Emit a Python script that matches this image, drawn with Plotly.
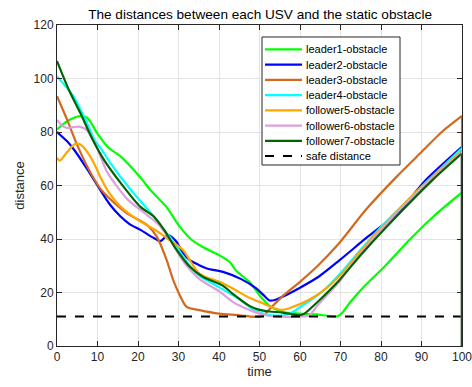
import plotly.graph_objects as go

# Distance from each USV to the static obstacle over time
leader1_t = [0, 2.5, 5.4, 7.5, 9.9, 12.8, 15.7, 20.6, 23, 27, 30.3, 32.8, 36, 40, 42.6, 44.3, 47.5, 50, 52.5, 55.7, 59.9, 64, 69.3, 70.5, 72.2, 76, 80.4, 87, 93, 100]
leader1_d = [81, 84, 85.9, 85.3, 79.6, 74, 70.9, 63, 58.4, 52, 44.6, 40.3, 37, 34, 31.5, 28, 24, 19, 15, 12.7, 12.1, 11.8, 11.1, 12.5, 16, 22.5, 29, 39.6, 48.5, 57.4]

leader2_t = [0, 2.5, 4.4, 7.5, 10.6, 13, 15.7, 18, 20.6, 24, 25.5, 27.4, 29.5, 31, 32.8, 35, 37, 41, 45.5, 49.2, 51, 52.5, 54, 55.7, 60, 64.5, 69.7, 76.3, 84.5, 91, 100]
leader2_d = [80, 76.5, 73, 66, 58.5, 53, 48.4, 45.5, 43.4, 40.3, 39.2, 41.5, 39, 35, 32.1, 30.3, 29, 27.7, 25, 21.5, 19, 17, 17.3, 18.4, 21.8, 25.8, 32, 40.3, 50.3, 62, 74.5]

leader3_t = [0, 2.5, 4.6, 7.5, 10.6, 12.4, 17.3, 22.2, 24.6, 27, 28.7, 30, 32, 35.2, 40, 45, 48, 50, 51, 53, 56, 60, 64.4, 69.7, 76.3, 84, 90, 95, 100]
leader3_d = [93.4, 84.6, 76.5, 67, 59, 56, 49.6, 45.3, 41, 32.5, 24.6, 20, 14.6, 13.4, 12.1, 11.5, 11, 10.9, 11.5, 14.6, 19, 24, 30, 38.5, 51, 63.5, 72.5, 80, 86]

leader4_t = [0, 4, 7.5, 9.3, 11, 13.2, 18.2, 23.9, 26.4, 28, 30, 32, 35, 40, 45, 48, 50, 53, 56, 58, 60, 62, 66, 70, 75, 80, 90, 100]
leader4_d = [100.8, 93.5, 83, 77, 73.5, 68.4, 58.4, 48.4, 43.4, 40.5, 36, 31.5, 26.5, 22, 17.5, 14.2, 12.5, 11.5, 11.5, 12.5, 14.5, 16.5, 21, 27.2, 36, 44.5, 59.5, 74]

follower5_t = [0, 0.7, 2.5, 4.4, 5.8, 7.5, 9.1, 10.6, 12.4, 15.7, 20.6, 23, 25.5, 27.8, 31.1, 35.2, 40.1, 43.4, 47.5, 50, 53, 55.5, 58, 62.5, 66, 70, 75, 80, 90, 100]
follower5_d = [70.3, 69.3, 72.5, 75.5, 75.3, 72.5, 68.4, 63.5, 58.4, 52.1, 46.5, 44.5, 42.1, 39.6, 35.9, 27, 24, 21.5, 18, 16.5, 14.5, 13.5, 14.5, 17.5, 21, 26.5, 35.5, 44, 59.5, 73]

follower6_t = [0, 1.2, 2.5, 4, 5.5, 7.5, 9.9, 12.4, 17.3, 22.2, 25, 28, 31, 35.2, 40, 43.4, 47.5, 51.5, 55, 60, 62.3, 64.5, 69.7, 72, 75, 80, 90, 100]
follower6_d = [84.5, 82.5, 81.5, 81.8, 82, 80.5, 74, 65, 55, 49, 45.5, 39.5, 32, 25, 20.5, 16.5, 13.5, 11.5, 11, 11, 11.5, 15.5, 24, 29, 34.5, 43.5, 59, 72.5]

follower7_t = [0, 3, 5.8, 8.7, 11.6, 15.7, 20.6, 23.9, 26.4, 29.5, 32.8, 36, 41, 43.4, 47.5, 50, 52.5, 55.7, 59.9, 61, 64, 69.7, 75, 80.4, 92.7, 100]
follower7_d = [106.5, 95.5, 87, 77.5, 69.6, 61, 52, 48.4, 43.5, 36, 29.6, 25.9, 22.5, 19.5, 15, 13.5, 12.9, 12.5, 11.5, 12, 16, 24.6, 34, 43, 62, 72]

# every distance record is reset to zero at the final time step
final_d = 0

safe_t = [0, 100]
safe_d = [11, 11]

series = [
    ("leader1-obstacle", leader1_t, leader1_d, "#00FF00"),
    ("leader2-obstacle", leader2_t, leader2_d, "#0000FF"),
    ("leader3-obstacle", leader3_t, leader3_d, "#D2691E"),
    ("leader4-obstacle", leader4_t, leader4_d, "#00FFFF"),
    ("follower5-obstacle", follower5_t, follower5_d, "#FFA500"),
    ("follower6-obstacle", follower6_t, follower6_d, "#DDA0DD"),
    ("follower7-obstacle", follower7_t, follower7_d, "#006400"),
]
LW = 2.2

fig = go.Figure()
for name, t, d, color in series:
    fig.add_trace(go.Scatter(x=t, y=d, mode="lines", name=name, showlegend=False,
                             line=dict(color=color, width=LW, shape="spline", smoothing=0.7)))
fig.add_trace(go.Scatter(x=safe_t, y=safe_d, mode="lines", name="safe distance", showlegend=False,
                         line=dict(color="black", width=2, dash="dash")))
# vertical drop of each record at the last time step
for name, t, d, color in series:
    fig.add_trace(go.Scatter(x=[t[-1], t[-1]], y=[d[-1], final_d], mode="lines", showlegend=False,
                             line=dict(color=color, width=LW)))

# legend box drawn in paper coordinates
def px_to_paper_x(px):
    return (px - 57) / 405

def px_to_paper_y(py):
    return (346 - py) / 321

shapes = [dict(type="rect", xref="paper", yref="paper",
               x0=px_to_paper_x(262), x1=px_to_paper_x(400),
               y0=px_to_paper_y(165), y1=px_to_paper_y(37),
               line=dict(color="#262626", width=1), fillcolor="white", layer="above")]
annotations = []
legend_entries = [(name, color, "solid", LW) for name, _, _, color in series]
legend_entries.append(("safe distance", "black", "dash", 2))
for i, (name, color, dash, w) in enumerate(legend_entries):
    yc = px_to_paper_y(49.3 + 15.25 * i)
    shapes.append(dict(type="line", xref="paper", yref="paper",
                       x0=px_to_paper_x(265), x1=px_to_paper_x(302), y0=yc, y1=yc,
                       line=dict(color=color, width=w, dash=dash), layer="above"))
    annotations.append(dict(xref="paper", yref="paper", x=px_to_paper_x(304), y=yc,
                            xanchor="left", yanchor="middle", text=name, showarrow=False,
                            font=dict(size=11, color="black", family="Liberation Sans, Arial")))

axis_common = dict(
    showline=True, linecolor="#262626", linewidth=1, mirror="ticks",
    ticks="inside", ticklen=5, tickcolor="#262626",
    showgrid=True, gridcolor="#E3E3E3", gridwidth=1, zeroline=False,
    ticklabeloverflow="allow", automargin=False,
    tickfont=dict(family="Liberation Sans, Arial", size=12, color="#262626"),
)

fig.update_layout(
    width=472, height=387,
    margin=dict(l=57, r=10, t=25, b=41, autoexpand=False),
    paper_bgcolor="white", plot_bgcolor="white",
    font=dict(family="Liberation Sans, Arial", color="#262626"),
    title=dict(text="The distances between each USV and the static obstacle",
               x=0.551, xanchor="center", y=0.964, yanchor="middle",
               font=dict(size=13.6, color="black")),
    xaxis=dict(range=[0, 100], dtick=10, title=dict(text="time", font=dict(size=13), standoff=2), **axis_common),
    yaxis=dict(range=[0, 120], dtick=20, title=dict(text="distance", font=dict(size=13), standoff=6), **axis_common),
    shapes=shapes,
    annotations=annotations,
    showlegend=False,
)

fig.write_html("out.html")
